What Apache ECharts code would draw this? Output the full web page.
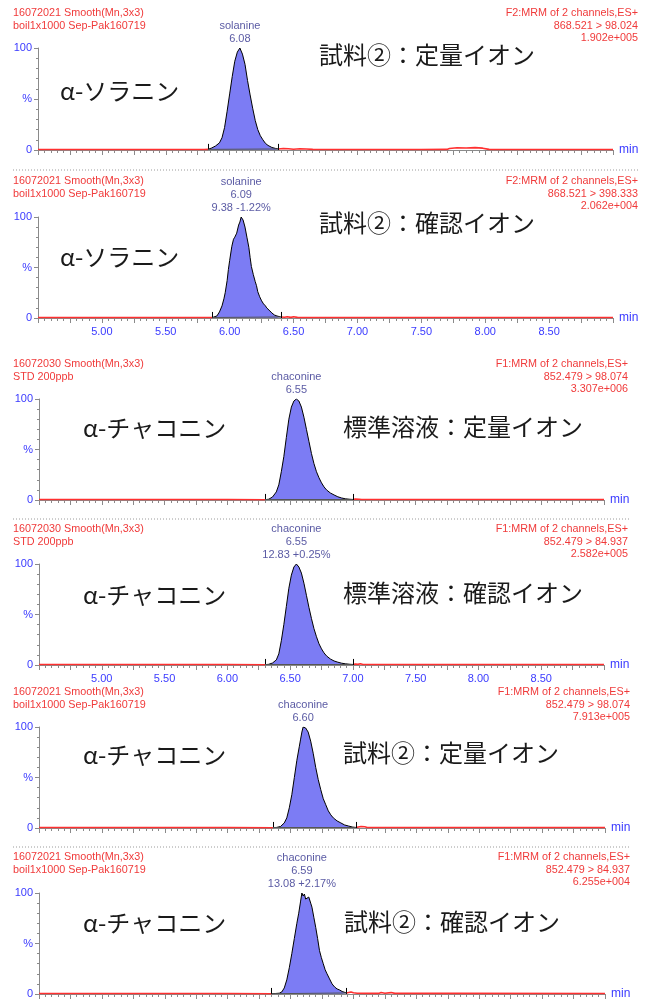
<!DOCTYPE html>
<html>
<head>
<meta charset="utf-8">
<script src="https://cdn.jsdelivr.net/npm/echarts@6/dist/echarts.min.js"></script>
<style>
  html, body { margin: 0; padding: 0; background: #fff; }
  #chart { width: 646px; height: 1003px; }
</style>
</head>
<body>
<div id="chart"></div>
<script>
// ---- MRM chromatogram data: [retention time (min), relative intensity (%)] ----
const p1Trace = [[4.50,0.5],[5.00,0.5],[5.50,0.5],[5.80,0.5],[5.83,0.6],[5.86,2],[5.89,4],[5.92,7],[5.94,12],[5.96,22],[5.98,38],[6.00,55],[6.02,72],[6.04,87],[6.06,96],[6.08,100],[6.10,94],[6.12,84],[6.14,68],[6.16,54],[6.18,41],[6.20,29],[6.22,20],[6.24,14],[6.26,10],[6.28,6.5],[6.30,4.5],[6.33,2.5],[6.36,1.5],[6.38,1],[6.42,1.5],[6.46,1.2],[6.50,0.8],[6.55,1.2],[6.60,1],[6.65,0.6],[7.00,0.5],[7.50,0.5],[7.70,0.6],[7.72,1.5],[7.78,2.2],[7.85,2],[7.92,2.3],[7.98,1.8],[8.03,0.6],[8.50,0.5],[9.00,0.5]];
const p2Trace = [[4.50,0.5],[5.00,0.5],[5.50,0.5],[5.865,0.5],[5.88,1],[5.90,2],[5.92,6],[5.94,12],[5.955,19],[5.965,25],[5.98,37],[5.99,48],[6.00,57],[6.017,71],[6.03,78],[6.04,80],[6.055,84],[6.07,92],[6.08,95],[6.09,100],[6.105,97],[6.12,90],[6.135,80],[6.15,70],[6.16,60],[6.17,51],[6.185,43],[6.20,36],[6.21,32],[6.22,26],[6.235,21],[6.25,17],[6.265,14],[6.28,12],[6.29,10],[6.30,9],[6.315,7],[6.33,5],[6.35,3],[6.37,2],[6.40,1],[6.43,0.8],[6.45,1.3],[6.48,0.6],[6.50,1.2],[6.53,0.6],[6.60,0.5],[7.76,0.5],[7.77,2],[7.78,0.5],[9.00,0.5]];
const p3Trace = [[4.50,0.5],[5.00,0.5],[5.50,0.5],[6.00,0.5],[6.30,0.3],[6.33,0.8],[6.36,3],[6.39,8],[6.41,15],[6.43,28],[6.45,43],[6.47,62],[6.49,80],[6.51,92],[6.53,98],[6.55,100],[6.57,98],[6.59,92],[6.61,82],[6.63,70],[6.65,58],[6.67,46],[6.69,36],[6.71,28],[6.73,22],[6.75,17],[6.77,13],[6.79,10],[6.82,7],[6.85,5],[6.88,3.2],[6.91,2],[6.94,1.2],[6.97,0.8],[7.00,0.5],[7.02,1],[7.05,0.8],[7.07,0.5],[8.00,0.5],[9.00,0.5]];
const p4Trace = [[4.50,0.5],[5.00,0.5],[5.50,0.5],[6.00,0.5],[6.30,0.3],[6.33,0.7],[6.36,2],[6.39,5],[6.41,11],[6.43,24],[6.45,40],[6.47,58],[6.49,76],[6.51,89],[6.53,97],[6.55,100],[6.57,97],[6.59,91],[6.61,81],[6.63,69],[6.65,57],[6.67,46],[6.69,36],[6.71,28],[6.73,21],[6.75,16],[6.77,12],[6.79,9],[6.82,6],[6.85,4],[6.88,2.8],[6.91,1.8],[6.94,1.2],[6.97,0.8],[7.00,0.5],[7.02,1],[7.04,0.6],[7.06,1.2],[7.08,0.5],[8.00,0.5],[9.00,0.5]];
const p5Trace = [[4.50,0.5],[5.00,0.5],[5.50,0.5],[6.00,0.5],[6.36,0.3],[6.39,0.6],[6.42,1.5],[6.45,5],[6.47,10],[6.49,20],[6.51,33],[6.53,50],[6.55,67],[6.57,81],[6.58,88],[6.59,95],[6.60,100],[6.62,99],[6.64,95],[6.66,86],[6.68,74],[6.70,60],[6.72,48],[6.74,38],[6.76,29],[6.78,23],[6.80,17],[6.82,13],[6.84,10],[6.87,7],[6.90,5],[6.93,3],[6.96,2],[6.99,1],[7.02,0.5],[7.03,1.5],[7.06,1.5],[7.09,1.2],[7.11,0.5],[8.00,0.5],[9.00,0.5]];
const p6Trace = [[4.50,0.5],[5.00,0.5],[5.50,0.5],[6.00,0.5],[6.35,0.3],[6.38,0.5],[6.41,0.8],[6.43,2],[6.45,6],[6.47,14],[6.49,26],[6.51,40],[6.53,55],[6.55,70],[6.565,80],[6.58,92],[6.59,100],[6.60,97],[6.61,99],[6.62,94],[6.63,95],[6.645,96],[6.66,90],[6.67,86],[6.685,76],[6.70,66],[6.715,55],[6.73,43],[6.745,36],[6.76,30],[6.775,24],[6.79,20],[6.81,15],[6.83,10],[6.85,7],[6.87,5],[6.89,4],[6.91,2.5],[6.945,1],[6.96,1.8],[6.98,2],[7.00,1.2],[7.03,0.8],[7.10,0.6],[7.20,0.6],[7.22,1.5],[7.25,0.8],[7.30,1.4],[7.33,0.6],[7.77,0.6],[7.78,1.5],[7.79,0.6],[9.00,0.5]];

// integration windows (start, end) in minutes
const windows = [[5.83,6.38],[5.865,6.40],[6.30,7.00],[6.30,7.00],[6.36,7.02],[6.35,6.945]];

// peak annotations
const compounds = ['solanine','solanine','chaconine','chaconine','chaconine','chaconine'];
const retTimes = [6.08, 6.09, 6.55, 6.55, 6.60, 6.59];
const ratios = [null, '9.38 -1.22%', null, '12.83 +0.25%', null, '13.08 +2.17%'];

// header texts
const leftHeaders = [
  ['16072021 Smooth(Mn,3x3)','boil1x1000 Sep-Pak160719'],
  ['16072021 Smooth(Mn,3x3)','boil1x1000 Sep-Pak160719'],
  ['16072030 Smooth(Mn,3x3)','STD 200ppb'],
  ['16072030 Smooth(Mn,3x3)','STD 200ppb'],
  ['16072021 Smooth(Mn,3x3)','boil1x1000 Sep-Pak160719'],
  ['16072021 Smooth(Mn,3x3)','boil1x1000 Sep-Pak160719']
];
const rightHeaders = [
  ['F2:MRM of 2 channels,ES+','868.521 > 98.024','1.902e+005'],
  ['F2:MRM of 2 channels,ES+','868.521 > 398.333','2.062e+004'],
  ['F1:MRM of 2 channels,ES+','852.479 > 98.074','3.307e+006'],
  ['F1:MRM of 2 channels,ES+','852.479 > 84.937','2.582e+005'],
  ['F1:MRM of 2 channels,ES+','852.479 > 98.074','7.913e+005'],
  ['F1:MRM of 2 channels,ES+','852.479 > 84.937','6.255e+004']
];
const analyteLabels = ['α-ソラニン','α-ソラニン','α-チャコニン','α-チャコニン','α-チャコニン','α-チャコニン'];
const sampleLabels = ['試料②：定量イオン','試料②：確認イオン','標準溶液：定量イオン','標準溶液：確認イオン','試料②：定量イオン','試料②：確認イオン'];

const yTicks = [0, 50, 100];   // 50 is shown as "%"
const xRange = [4.5, 9.0];

const traces = [p1Trace, p2Trace, p3Trace, p4Trace, p5Trace, p6Trace];

// ---- page layout for each panel ----
const layout = [
  { grid:[38,48,575,102],  hdrY:13,  rightX:638, analyte:[60,91],  sample:[319,55],  xLabels:false },
  { grid:[38,217,575,101], hdrY:181, rightX:638, analyte:[60,257], sample:[319,223], xLabels:true },
  { grid:[39,399,565,101], hdrY:364, rightX:628, analyte:[83,428], sample:[343,427], xLabels:false },
  { grid:[39,564,565,101], hdrY:529, rightX:628, analyte:[83,595], sample:[343,593], xLabels:true },
  { grid:[39,727,566,101], hdrY:692, rightX:630, analyte:[83,755], sample:[343,753], xLabels:false },
  { grid:[39,893,566,101], hdrY:857, rightX:630, analyte:[83,923], sample:[344,922], xLabels:false }
];
const separators = [[13,640,170],[13,630,519],[13,630,847]];

const LATIN = '"Liberation Sans", Arial, sans-serif';
const CJK = '"Noto Sans CJK JP", sans-serif';
const RED = '#f03a3a';
const BLUE = '#3a3aff';
const NAVY = '#30308c';

const grids = [], xAxes = [], yAxes = [], series = [], graphics = [];

layout.forEach((L, i) => {
  const [left, top, width, height] = L.grid;
  grids.push({ left, top, width, height });
  xAxes.push({
    type: 'value', gridIndex: i, min: xRange[0], max: xRange[1], interval: 0.25,
    axisLine: { lineStyle: { color: '#8a8a8a', width: 1 } },
    axisTick: { show: true, length: 5, lineStyle: { color: '#8a8a8a' } },
    minorTick: { show: true, splitNumber: 5, length: 3, lineStyle: { color: '#8a8a8a' } },
    splitLine: { show: false },
    axisLabel: {
      show: L.xLabels, color: BLUE, fontSize: 11, fontFamily: LATIN, margin: 8,
      formatter: v => (Math.abs(v * 2 - Math.round(v * 2)) < 1e-6 && v > 4.9 && v < 8.6) ? v.toFixed(2) : ''
    },
    name: 'min', nameLocation: 'end', nameGap: 6,
    nameTextStyle: { color: BLUE, fontSize: 12, fontFamily: LATIN, padding: [6, 0, 0, 0] }
  });
  yAxes.push({
    type: 'value', gridIndex: i, min: 0, max: 100, interval: 50,
    axisLine: { show: true, lineStyle: { color: '#8a8a8a', width: 1 } },
    axisTick: { show: true, length: 4, lineStyle: { color: '#8a8a8a' } },
    minorTick: { show: true, splitNumber: 5, length: 2, lineStyle: { color: '#8a8a8a' } },
    splitLine: { show: false },
    axisLabel: {
      color: BLUE, fontSize: 11, fontFamily: LATIN, margin: 6,
      formatter: v => (v === yTicks[1] ? '%' : String(v))
    }
  });

  const tr = traces[i];
  const [ws, we] = windows[i];
  const pre = tr.filter(p => p[0] <= ws);
  const post = tr.filter(p => p[0] >= we);
  const peak = tr.filter(p => p[0] >= ws && p[0] <= we);
  const vs = peak[0][1], ve = peak[peak.length - 1][1];

  const redLine = { type: 'line', symbol: 'none', silent: true, z: 3,
                    lineStyle: { color: '#ff3030', width: 1.6 } };
  series.push(Object.assign({ xAxisIndex: i, yAxisIndex: i, data: pre }, redLine));
  series.push(Object.assign({ xAxisIndex: i, yAxisIndex: i, data: post }, redLine));

  // integrated peak
  series.push({
    type: 'line', xAxisIndex: i, yAxisIndex: i, data: peak, symbol: 'none', silent: true, z: 4,
    lineStyle: { color: '#000', width: 1 },
    areaStyle: { color: '#7c7cf4', opacity: 1, origin: 'start' },
    markLine: {
      silent: true, symbol: 'none', animation: false,
      label: { show: false },
      lineStyle: { color: '#000', width: 1, type: 'solid' },
      data: [
        [{ coord: [ws, 0] }, { coord: [ws, 6] }],
        [{ coord: [we, 0] }, { coord: [we, 6] }],
        [{ coord: [ws, vs] }, { coord: [we, ve], lineStyle: { color: '#555', width: 1, type: 'solid' } }]
      ]
    }
  });

  // peak annotation above apex
  const lines = [compounds[i], retTimes[i].toFixed(2)];
  if (ratios[i]) lines.push(ratios[i]);
  series.push({
    type: 'scatter', xAxisIndex: i, yAxisIndex: i, symbolSize: 1, silent: true, z: 5,
    itemStyle: { color: 'rgba(0,0,0,0)' },
    data: [[retTimes[i], 100]],
    label: {
      show: true, position: 'top', distance: 2, color: NAVY, fontSize: 11,
      fontFamily: LATIN, lineHeight: 13, align: 'center',
      formatter: () => lines.join('\n')
    }
  });

  // header texts
  leftHeaders[i].forEach((t, k) => graphics.push({
    type: 'text', x: 13, y: L.hdrY + k * 12.7, silent: true,
    style: { text: t, fill: RED, font: '10.8px ' + LATIN, align: 'left', verticalAlign: 'middle' }
  }));
  rightHeaders[i].forEach((t, k) => graphics.push({
    type: 'text', x: L.rightX, y: L.hdrY + k * 12.7, silent: true,
    style: { text: t, fill: RED, font: '10.8px ' + LATIN, align: 'right', verticalAlign: 'middle' }
  }));
  // annotation texts inside the panel
  graphics.push({
    type: 'text', x: L.analyte[0], y: L.analyte[1], silent: true, z: 10,
    style: { text: analyteLabels[i], fill: '#1a1a1a', font: '24px ' + CJK, align: 'left', verticalAlign: 'middle' }
  });
  graphics.push({
    type: 'text', x: L.sample[0], y: L.sample[1], silent: true, z: 10,
    style: { text: sampleLabels[i], fill: '#1a1a1a', font: '24px ' + CJK, align: 'left', verticalAlign: 'middle' }
  });
});

separators.forEach(([x1, x2, y]) => graphics.push({
  type: 'line', silent: true,
  shape: { x1, y1: y, x2, y2: y },
  style: { stroke: '#9a9a9a', lineWidth: 1, lineDash: [1, 2] }
}));

const chart = echarts.init(document.getElementById('chart'), null, { renderer: 'canvas' });
chart.setOption({
  animation: false,
  backgroundColor: '#ffffff',
  grid: grids,
  xAxis: xAxes,
  yAxis: yAxes,
  series: series,
  graphic: graphics
});
</script>
</body>
</html>
